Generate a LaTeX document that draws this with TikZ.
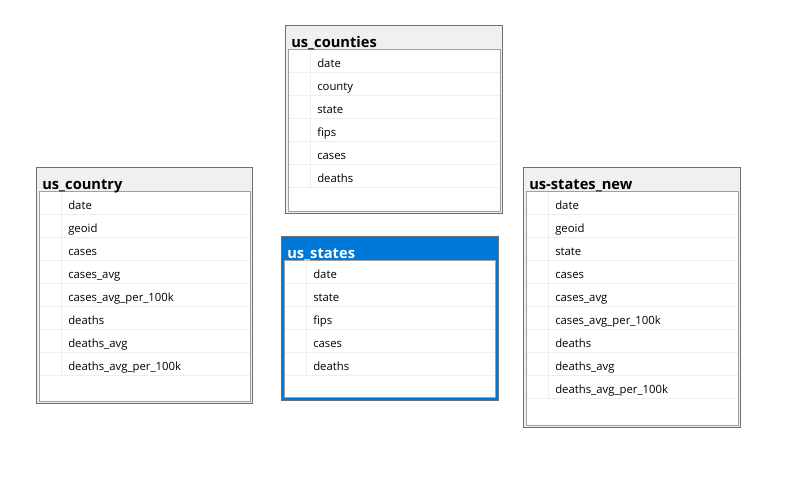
\documentclass[tikz,border=0pt]{standalone}
\usepackage{fontspec}
\setmainfont{Open Sans}
\definecolor{outerc}{HTML}{6E6E6E}
\definecolor{innerc}{HTML}{A0A0A0}
\definecolor{sepc}{HTML}{EEEEEE}
\definecolor{titlebg}{HTML}{F0F0F0}
\definecolor{selblue}{HTML}{0078D7}
\tikzset{
  nouter/.style={draw=outerc, fill=titlebg, line width=0.75pt},
  souter/.style={draw=outerc, fill=selblue, line width=0.75pt},
  ninner/.style={draw=innerc, fill=white, line width=0.75pt},
  sinner/.style={draw=innerc, fill=white, line width=0.75pt},
  ntitle/.style={font=\bfseries\fontsize{11}{13}\selectfont, text=black, inner sep=0pt, anchor=base west},
  stitle/.style={font=\bfseries\fontsize{11}{13}\selectfont, text=white, inner sep=0pt, anchor=base west},
  rowtext/.style={font=\fontsize{8.5}{10}\selectfont, text=black, inner sep=0pt, anchor=base west},
  sepline/.style={draw=sepc, line width=0.75pt},
}
% #1 name, #2 x, #3 y, #4 w, #5 h, #6 title, #7 rows, #8 style prefix (n or s), #9 inner margin right/bottom
\newcommand\dbtable[9]{%
  \path[#8outer] (#2,#3) rectangle ++(#4,#5);
  \path[#8inner] (#2+3,#3+24) rectangle ++(#4-3-#9,#5-24-#9);
  \node[#8title] (#1-title) at (#2+6,#3+22) {#6};
  \foreach \r [count=\i from 0] in {#7} {
    \draw[sepline] (#2+3.5,#3+24+23*\i+23) -- ++(#4-3.5-#9-0.5,0);
    \draw[sepline] (#2+25,#3+24.5+23*\i) -- ++(0,23);
    \node[rowtext] (#1-\i) at (#2+32,#3+24+23*\i+17.5) {\r};
  }
}
\begin{document}
\begin{tikzpicture}[x=0.75pt,y=-0.75pt]
\useasboundingbox[fill=white] (0,0) rectangle (790,488);
\dbtable{counties}{285}{26}{217}{188}{us\_counties}{date,county,state,fips,cases,deaths}{n}{2}
\dbtable{country}{36}{168}{216}{236}{us\_country}{date,geoid,cases,cases\_avg,cases\_avg\_per\_100k,deaths,deaths\_avg,deaths\_avg\_per\_100k}{n}{2}
\dbtable{statesnew}{523}{168}{217}{260}{us-states\_new}{date,geoid,state,cases,cases\_avg,cases\_avg\_per\_100k,deaths,deaths\_avg,deaths\_avg\_per\_100k}{n}{2}
\dbtable{states}{281}{237}{217}{164}{us\_states}{date,state,fips,cases,deaths}{s}{3}
\end{tikzpicture}
\end{document}
